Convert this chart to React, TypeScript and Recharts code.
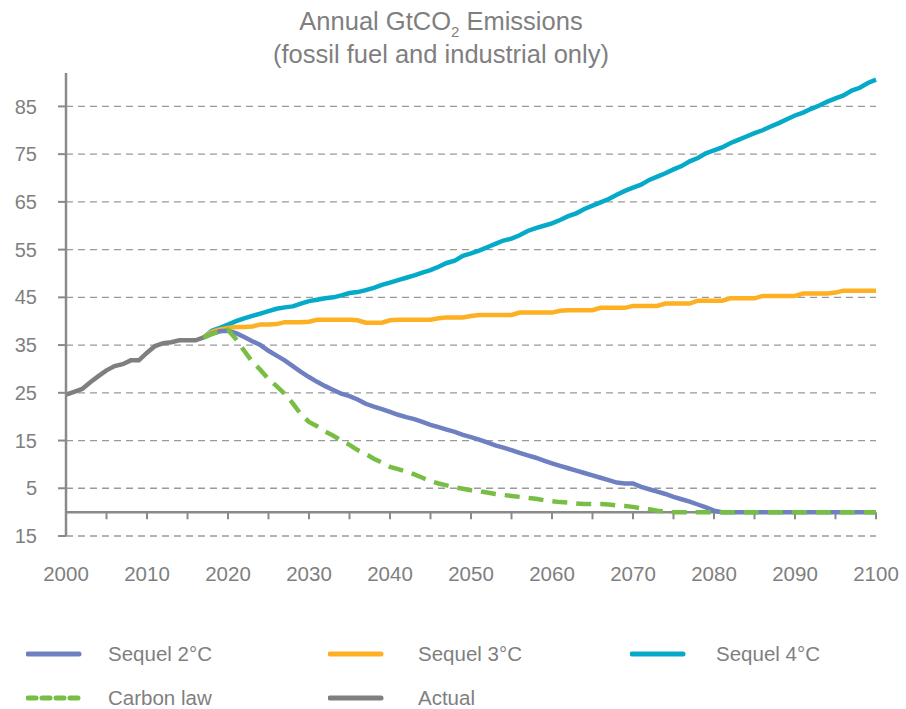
import React from 'react';
import { LineChart, Line, XAxis, YAxis, CartesianGrid, ReferenceLine } from 'recharts';

const actualStartYear = 2000;
const scenarioStartYear = 2017;
const lastYear = 2100;

const actual = [24.6, 25.2, 25.8, 27.2, 28.5, 29.7, 30.6, 31.0, 31.8, 31.8, 33.4, 34.8, 35.4, 35.6, 36.0, 36.0, 36.0, 36.6];

const sequel2 = [
  36.6, 37.4, 37.9, 38.0, 37.5, 36.7, 35.8, 35.0, 33.8, 32.8,
  31.8, 30.6, 29.4, 28.3, 27.3, 26.4, 25.6, 24.8, 24.3, 23.6,
  22.7, 22.1, 21.6, 21.0, 20.4, 19.9, 19.5, 18.9, 18.3, 17.8,
  17.3, 16.8, 16.2, 15.7, 15.2, 14.6, 14.0, 13.5, 13.0, 12.4,
  11.9, 11.4, 10.8, 10.2, 9.7, 9.2, 8.7, 8.2, 7.7, 7.2,
  6.7, 6.2, 6.0, 6.0, 5.3, 4.8, 4.3, 3.8, 3.2, 2.7,
  2.2, 1.6, 1.0, 0.3, 0, 0, 0, 0, 0, 0,
  0, 0, 0, 0, 0, 0, 0, 0, 0, 0,
  0, 0, 0, 0,
];

const sequel3 = [
  36.6, 37.8, 38.3, 38.6, 38.8, 38.8, 38.9, 39.3, 39.3, 39.4,
  39.8, 39.8, 39.8, 39.9, 40.3, 40.3, 40.3, 40.3, 40.3, 40.2,
  39.7, 39.7, 39.7, 40.2, 40.3, 40.3, 40.3, 40.3, 40.3, 40.6,
  40.8, 40.8, 40.8, 41.1, 41.3, 41.3, 41.3, 41.3, 41.3, 41.8,
  41.8, 41.8, 41.8, 41.8, 42.2, 42.3, 42.3, 42.3, 42.3, 42.8,
  42.8, 42.8, 42.8, 43.2, 43.2, 43.2, 43.2, 43.7, 43.7, 43.7,
  43.7, 44.3, 44.3, 44.3, 44.3, 44.8, 44.8, 44.8, 44.8, 45.3,
  45.3, 45.3, 45.3, 45.3, 45.8, 45.8, 45.8, 45.8, 46.0, 46.4,
  46.4, 46.4, 46.4, 46.4,
];

const sequel4 = [
  36.6, 38.0, 38.6, 39.3, 40.0, 40.6, 41.1, 41.6, 42.1, 42.6,
  42.9, 43.1, 43.7, 44.2, 44.5, 44.8, 45.0, 45.4, 45.9, 46.1,
  46.5, 47.0, 47.6, 48.1, 48.6, 49.1, 49.6, 50.2, 50.7, 51.4,
  52.2, 52.7, 53.7, 54.2, 54.8, 55.5, 56.2, 56.9, 57.3, 58.0,
  58.9, 59.5, 60.0, 60.5, 61.2, 62.0, 62.6, 63.5, 64.2, 64.9,
  65.6, 66.5, 67.3, 68.0, 68.6, 69.6, 70.3, 71.0, 71.8, 72.5,
  73.5, 74.2, 75.2, 75.8, 76.4, 77.3, 78.0, 78.7, 79.4, 80.0,
  80.8, 81.5, 82.3, 83.1, 83.7, 84.5, 85.2, 86.0, 86.7, 87.3,
  88.3, 88.9, 89.9, 90.6,
];

const carbonLaw = [
  36.6, 37.3, 37.9, 38.2, 36.2, 33.8, 31.5, 29.8, 27.9, 26.4,
  24.8, 22.8, 20.5, 18.9, 18.0, 16.9, 16.0, 15.0, 14.1, 13.0,
  12.2, 11.2, 10.4, 9.5, 9.0, 8.5, 7.9, 7.2, 6.5, 6.0,
  5.6, 5.2, 4.9, 4.6, 4.4, 4.1, 3.8, 3.6, 3.4, 3.2,
  3.0, 2.8, 2.5, 2.3, 2.1, 2.0, 1.8, 1.7, 1.7, 1.7,
  1.6, 1.4, 1.3, 1.1, 0.8, 0.6, 0.3, 0.1, 0, 0,
  0, 0, 0, 0, 0, 0, 0, 0, 0, 0,
  0, 0, 0, 0, 0, 0, 0, 0, 0, 0,
  0, 0, 0, 0,
];

const xTicks = [2000, 2010, 2020, 2030, 2040, 2050, 2060, 2070, 2080, 2090, 2100];
const zeroLineTicks = [2005, 2010, 2015, 2020, 2025, 2030, 2035, 2040, 2045, 2050, 2055, 2060, 2065, 2070, 2075, 2080, 2085, 2090, 2095, 2100];
const yTicks = [-5, 5, 15, 25, 35, 45, 55, 65, 75, 85];
const yTickLabels = ['15', '5', '15', '25', '35', '45', '55', '65', '75', '85'];

const COLORS = {
  s2: '#6F80C2',
  s3: '#FDB022',
  s4: '#06AAC9',
  cl: '#78BE44',
  actual: '#7F7F7F',
  text: '#7F7F7F',
  axis: '#8A8A8A',
  grid: '#9A9A9A',
};

const data: any[] = [];
for (let yr = actualStartYear; yr <= lastYear; yr++) {
  const row: any = { year: yr };
  const ai = yr - actualStartYear;
  if (ai < actual.length) row.actual = actual[ai];
  const si = yr - scenarioStartYear;
  if (si >= 0) {
    row.s2 = sequel2[si];
    row.s3 = sequel3[si];
    row.s4 = sequel4[si];
    row.cl = carbonLaw[si];
  }
  data.push(row);
}

const legendItems = [
  { name: 'Sequel 2°C', color: COLORS.s2, dashed: false },
  { name: 'Sequel 3°C', color: COLORS.s3, dashed: false },
  { name: 'Sequel 4°C', color: COLORS.s4, dashed: false },
  { name: 'Carbon law', color: COLORS.cl, dashed: true },
  { name: 'Actual', color: COLORS.actual, dashed: false },
];
const legendLineLeft = [28, 330, 632];
const legendTextLeft = [108, 418, 716];

const FONT = '"Liberation Sans", Arial, sans-serif';

export default function App() {
  return (
    <div style={{ position: 'absolute', left: 0, top: 0, width: 906, height: 709, background: '#fff', fontFamily: FONT }}>
      <div
        style={{
          position: 'absolute',
          left: 0,
          top: 5,
          width: 882,
          textAlign: 'center',
          color: COLORS.text,
          fontSize: 25.5,
          lineHeight: '33px',
        }}
      >
        <div>
          Annual GtCO<sub style={{ fontSize: 15, verticalAlign: -7, lineHeight: 0 }}>2</sub> Emissions
        </div>
        <div>(fossil fuel and industrial only)</div>
      </div>
      <div style={{ position: 'absolute', left: 0, top: 0 }}>
        <LineChart
          width={906}
          height={709}
          data={data}
          margin={{ top: 73, right: 30, left: 0, bottom: 113 }}
        >
          <CartesianGrid
            vertical={false}
            horizontalValues={yTicks}
            stroke={COLORS.grid}
            strokeDasharray="7 5"
            strokeWidth={1.3}
          />
          <XAxis
            dataKey="year"
            type="number"
            domain={[2000, 2100]}
            ticks={xTicks}
            axisLine={false}
            tickLine={false}
            tickMargin={24}
            height={60}
            tick={{ fill: COLORS.text, fontSize: 20.5, fontFamily: FONT }}
          />
          <YAxis
            type="number"
            domain={[-5, 92]}
            ticks={yTicks}
            width={66}
            interval={0}
            axisLine={{ stroke: COLORS.axis, strokeWidth: 2.5 }}
            tickLine={{ stroke: COLORS.axis, strokeWidth: 2 }}
            tickSize={8}
            tickMargin={21}
            tickFormatter={(v: number) => yTickLabels[yTicks.indexOf(v)] ?? String(v)}
            tick={{ fill: COLORS.text, fontSize: 20, fontFamily: FONT }}
          />
          <ReferenceLine y={0} stroke={COLORS.axis} strokeWidth={2.5} />
          {zeroLineTicks.map((t) => (
            <ReferenceLine
              key={t}
              segment={[{ x: t, y: 0 }, { x: t, y: -1.5 }]}
              stroke={COLORS.axis}
              strokeWidth={2}
            />
          ))}
          <Line dataKey="actual" stroke={COLORS.actual} strokeWidth={4.5} dot={false} isAnimationActive={false} />
          <Line dataKey="s4" stroke={COLORS.s4} strokeWidth={4.5} dot={false} isAnimationActive={false} />
          <Line dataKey="s3" stroke={COLORS.s3} strokeWidth={4.5} dot={false} isAnimationActive={false} />
          <Line dataKey="s2" stroke={COLORS.s2} strokeWidth={4.5} dot={false} isAnimationActive={false} />
          <Line dataKey="cl" stroke={COLORS.cl} strokeWidth={4.5} strokeDasharray="15 9" dot={false} isAnimationActive={false} />
        </LineChart>
      </div>
      {legendItems.map((it, i) => {
        const col = i % 3;
        const row = Math.floor(i / 3);
        const cy = 654 + row * 44;
        return (
          <React.Fragment key={it.name}>
            <svg
              width={56}
              height={10}
              style={{ position: 'absolute', left: legendLineLeft[col] - 2, top: cy - 5, display: 'block' }}
            >
              <line
                x1={2}
                y1={5}
                x2={53}
                y2={5}
                stroke={it.color}
                strokeWidth={5}
                strokeLinecap="round"
                strokeDasharray={it.dashed ? '8 6' : undefined}
              />
            </svg>
            <span
              style={{
                position: 'absolute',
                left: legendTextLeft[col],
                top: cy - 14,
                lineHeight: '28px',
                color: COLORS.text,
                fontSize: 20.5,
                whiteSpace: 'nowrap',
              }}
            >
              {it.name}
            </span>
          </React.Fragment>
        );
      })}
    </div>
  );
}
